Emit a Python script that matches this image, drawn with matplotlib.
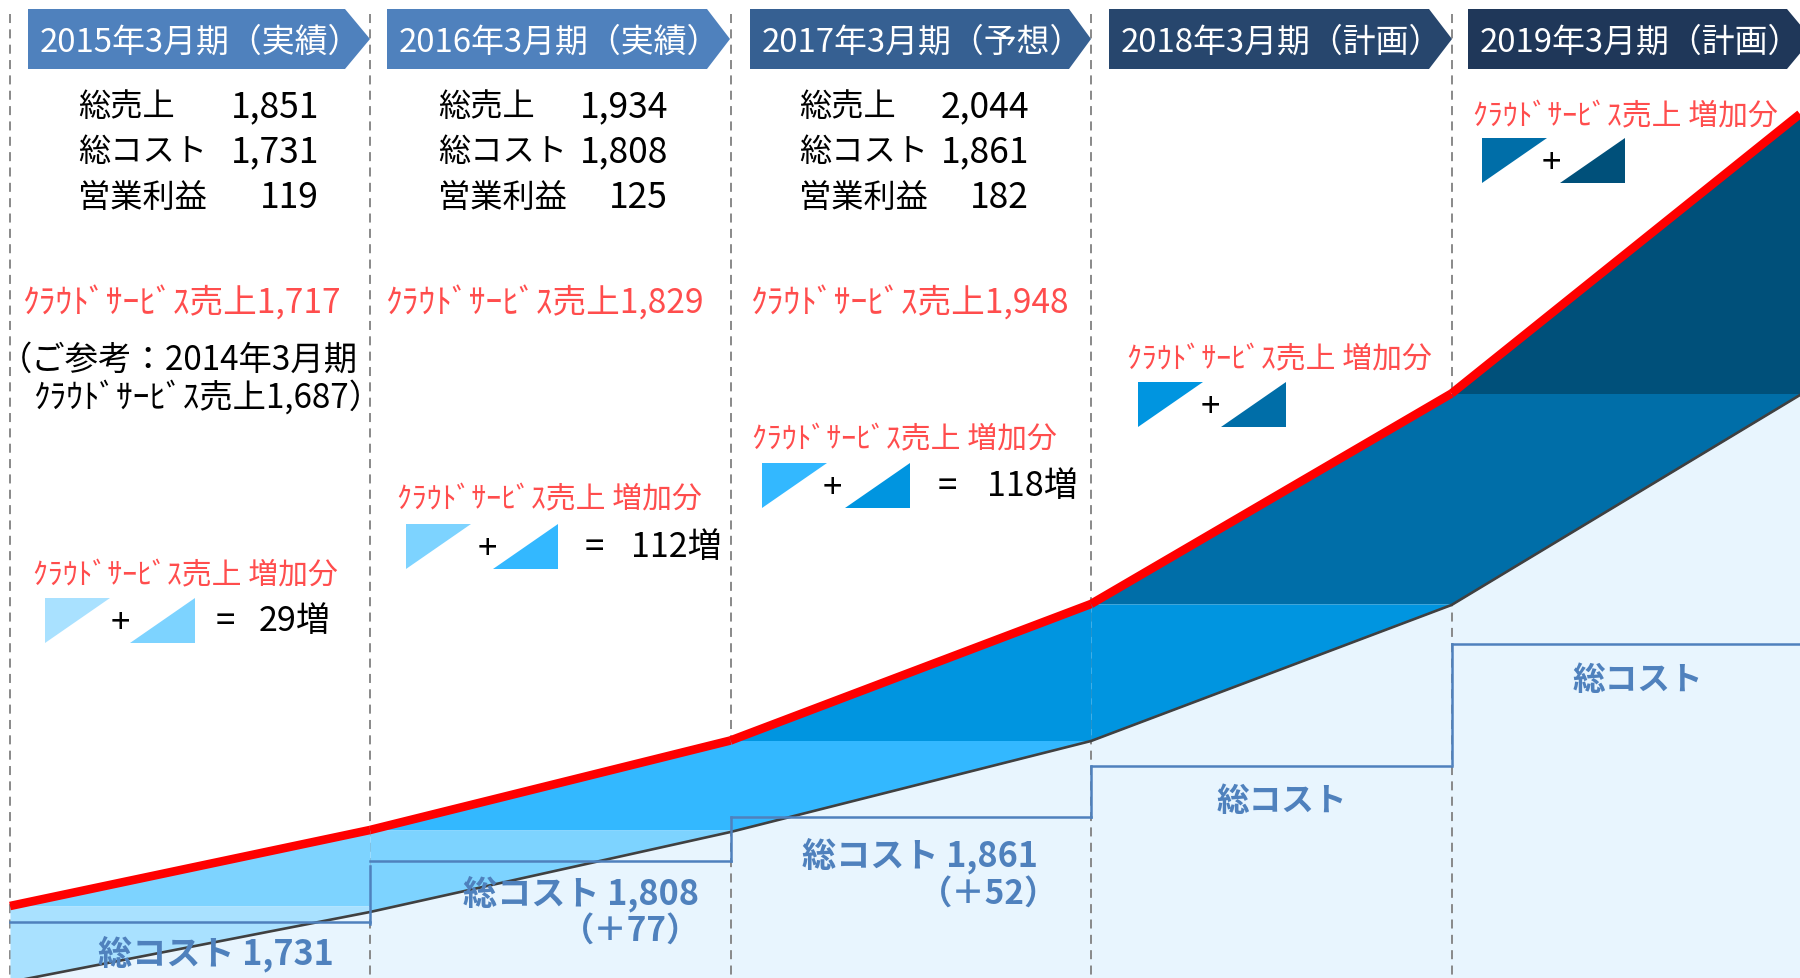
import matplotlib
matplotlib.use('Agg')
from matplotlib import pyplot as plt
from matplotlib.patches import Polygon

plt.rcParams['font.family'] = ['Noto Sans CJK JP', 'DejaVu Sans']

# everything in pixels, y grows downward
year_edges = [10, 370, 730.5, 1091, 1451.5, 1800]
sales_line = [907, 831, 741.5, 605, 394.5, 115]
cost_line = [983, 913, 833, 742, 606, 396]
cost_step = [923, 862, 818, 767, 645]

header_labels = ['2015年3月期（実績）', '2016年3月期（実績）', '2017年3月期（予想）',
                 '2018年3月期（計画）', '2019年3月期（計画）']
header_left = [28, 387, 750, 1109, 1468]
header_shoulder = [345, 707, 1069, 1429, 1787]
header_tip = [370, 730, 1091, 1452, 1812]
header_colors = ['#4f81bd', '#4f81bd', '#366092', '#27466d', '#1f3759']

summary_names = ['総売上', '総コスト', '営業利益']
summary_values = [['1,851', '1,731', '119'],
                  ['1,934', '1,808', '125'],
                  ['2,044', '1,861', '182']]
cloud_sales = ['ｸﾗｳﾄﾞｻｰﾋﾞｽ売上1,717', 'ｸﾗｳﾄﾞｻｰﾋﾞｽ売上1,829', 'ｸﾗｳﾄﾞｻｰﾋﾞｽ売上1,948']
increase_text = ['29増', '112増', '118増']
cost_labels = ['総コスト 1,731', '総コスト 1,808', '総コスト 1,861', '総コスト', '総コスト']

lower_colors = ['#a9e1ff', '#7dd3ff', '#33b8ff', '#0095e0', '#006ea8']
upper_colors = ['#7dd3ff', '#33b8ff', '#0095e0', '#006ea8', '#00507a']

RED_TEXT = '#ff4d4d'
COST_BLUE = '#4f81bd'

fig = plt.figure(figsize=(18, 9.79), dpi=100)
ax = fig.add_axes([0, 0, 1, 1])
ax.set_xlim(0, 1800)
ax.set_ylim(979, 0)
ax.axis('off')

# pale area under the cost line
ax.fill_between(year_edges, cost_line, 979, color='#e8f5fe', lw=0, zorder=1)

for x in year_edges[:-1]:
    ax.plot([x, x], [15, 979], color='#808080', lw=1.3, ls=(0, (5, 3.5)), zorder=2)

# each year: wedge above last year's sales, band down to the cost line
for i in range(5):
    xs = year_edges[i:i + 2]
    base = sales_line[i]
    ax.fill_between(xs, sales_line[i:i + 2], [base, base], color=upper_colors[i], lw=0, zorder=3)
    ax.fill_between(xs, [base, base], cost_line[i:i + 2], color=lower_colors[i], lw=0, zorder=3)

ax.plot(year_edges, cost_line, color='#404040', lw=1.9, zorder=4)
for i in range(5):
    ax.plot(year_edges[i:i + 2], sales_line[i:i + 2], color='#ff0000', lw=6.2,
            solid_capstyle='butt', zorder=5)

# stepped cost outline
for i in range(5):
    ax.plot(year_edges[i:i + 2], [cost_step[i], cost_step[i]], color=COST_BLUE, lw=1.8, zorder=4)
ax.plot([370, 370], [867, 925], color=COST_BLUE, lw=1.8, zorder=4)
ax.plot([730.5, 730.5], [818, 862], color=COST_BLUE, lw=1.8, zorder=4)
ax.plot([1091, 1091], [767, 818], color=COST_BLUE, lw=1.8, zorder=4)
ax.plot([1451.5, 1451.5], [645, 765], color=COST_BLUE, lw=1.8, zorder=4)

# header arrows
for i in range(5):
    left, sh, tip = header_left[i], header_shoulder[i], header_tip[i]
    ax.add_patch(Polygon([(left, 10), (sh, 10), (tip, 40), (sh, 70), (left, 70)],
                         closed=True, fc=header_colors[i], ec='none', zorder=6))
    ax.text(left + 12, 43, header_labels[i], color='white', fontsize=23.7, va='center', zorder=7)

# summary blocks
name_x = [78, 438, 799]
value_x = [319, 668, 1029]
row_y = [107, 152, 198]
for i in range(3):
    for j in range(3):
        ax.text(name_x[i], row_y[j], summary_names[j], fontsize=23.2, va='center', color='black')
        ax.text(value_x[i], row_y[j], summary_values[i][j], fontsize=25.5, va='center', ha='right', color='black')

# cloud sales
cloud_x = [22, 385, 750]
for i in range(3):
    ax.text(cloud_x[i], 304, cloud_sales[i], fontsize=24.2, va='center', color=RED_TEXT)
ax.text(-1, 360, '（ご参考：2014年3月期', fontsize=24, va='center', color='black')
ax.text(33, 398, 'ｸﾗｳﾄﾞｻｰﾋﾞｽ売上1,687）', fontsize=24, va='center', color='black')

# increase legends: label, two triangles, plus sign
inc_x = [33, 397, 752, 1127, 1473]
inc_y = [576, 500, 440, 360, 117]
tri_left = [45, 406, 762, 1138, 1482]
tri_top = [599, 525, 464, 383, 139]
tri_right = [195, 558, 910, 1286, 1625]
plus_x = [120, 487, 832, 1210, 1551]
for i in range(5):
    ax.text(inc_x[i], inc_y[i], 'ｸﾗｳﾄﾞｻｰﾋﾞｽ売上 増加分', fontsize=21.5, va='center', color=RED_TEXT)
    t, b = tri_top[i], tri_top[i] + 45
    ax.add_patch(Polygon([(tri_left[i], t), (tri_left[i] + 65, t), (tri_left[i], b)], fc=lower_colors[i], ec='none'))
    ax.add_patch(Polygon([(tri_right[i], t), (tri_right[i], b), (tri_right[i] - 65, b)], fc=upper_colors[i], ec='none'))
    ax.text(plus_x[i], (t + b) / 2 + 2, '+', fontsize=25, va='center', ha='center', color='black')

eq_x = [225, 594, 947]
inc_right = [331, 722, 1078]
for i in range(3):
    y = tri_top[i] + 23
    ax.text(eq_x[i], y, '=', fontsize=25, va='center', ha='center', color='black')
    ax.text(inc_right[i], y, increase_text[i], fontsize=24.5, va='center', ha='right', color='black')

# cost labels
cost_x = [98, 463, 802, 1217, 1573]
cost_y = [954, 894, 856, 802, 681]
cost_size = [24.6, 24.6, 24.6, 23.5, 23.5]
for i in range(5):
    ax.text(cost_x[i], cost_y[i], cost_labels[i], fontsize=cost_size[i], fontweight='bold', va='center',
            color=COST_BLUE, zorder=8)
ax.text(700, 931, '（＋77）', fontsize=24, fontweight='bold', va='center', ha='right', color=COST_BLUE, zorder=8)
ax.text(1058, 894, '（＋52）', fontsize=24, fontweight='bold', va='center', ha='right', color=COST_BLUE, zorder=8)

fig.savefig('out.png', dpi=100)
